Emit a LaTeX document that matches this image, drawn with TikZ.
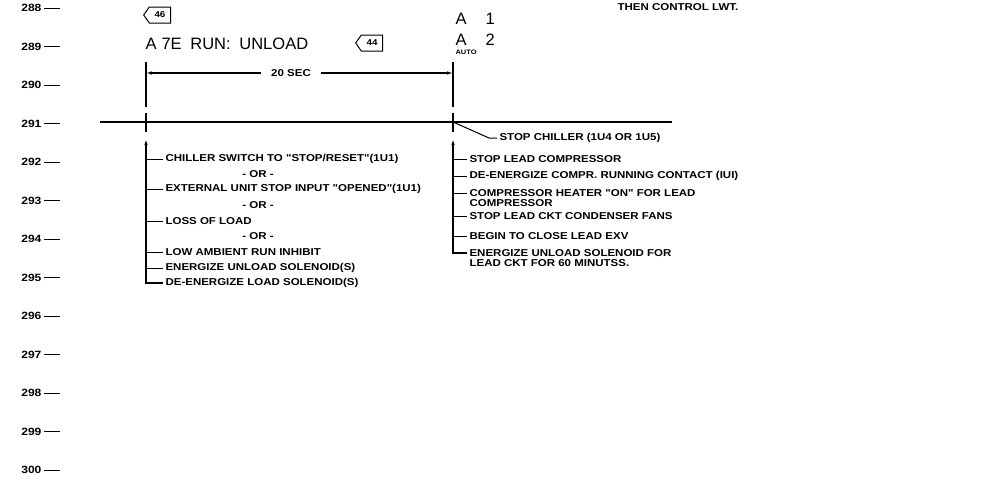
\documentclass[tikz,border=0pt]{standalone}
\usepackage{fontspec}
\setmainfont{Liberation Sans}
\newfontfamily\cadfont[FakeStretch=1.15]{Liberation Sans}
\usetikzlibrary{arrows.meta, positioning, calc, shapes.symbols}

\tikzset{
    cad/.style={font=\cadfont\bfseries\fontsize{10}{11}\selectfont, inner ysep=0pt, inner xsep=2pt, anchor=west},
    ortxt/.style={cad, anchor=center},
    rownum/.style={font=\cadfont\bfseries\fontsize{10.5}{11}\selectfont, inner sep=0pt, anchor=east},
    bigtxt/.style={font=\fontsize{16.5}{17}\selectfont, inner sep=0pt, anchor=west},
    tag/.style={draw, line width=1pt, signal, signal to=west, signal pointer angle=110,
        minimum width=27pt, minimum height=16pt, inner sep=1pt,
        font=\cadfont\bfseries\fontsize{8.5}{9}\selectfont},
    stub/.style={line width=1pt},
    evline/.style={line width=1.3pt},
}

\begin{document}
\begin{tikzpicture}[x=1pt, y=-1pt, >={Latex[length=6pt,width=3.5pt]}, line width=1.1pt]
    \useasboundingbox (0,0) rectangle (1007,483);

    % row numbers
    \foreach \n [count=\i from 0] in {288,...,300}
        \node[rownum] (row\n) at (42,{8+38.5*\i}) {\n};
    \foreach \n in {288,...,300}
        \draw[stub] ([xshift=2pt]row\n.east) -- ++(16,0);

    % header
    \node[tag] (tagA) at (160,15) {46};
    \node[bigtxt] (title) at (145,44) {A\hspace{0.3em}7E\hspace{0.25em} RUN:\hspace{0.25em} UNLOAD};
    \node[tag] (tagB) at (372,43) {44};
    \node[bigtxt] (aone) at (455,19) {A\hspace{19pt}1};
    \node[bigtxt] (atwo) at (455,40) {A\hspace{19pt}2};
    \node[cad, font=\cadfont\bfseries\fontsize{6.5}{7}\selectfont, inner xsep=0pt] (auto) at (455,52) {AUTO};
    \node[cad] (lwt) at (615,7) {THEN CONTROL LWT.};

    % event lines
    \coordinate (evL) at (146,122);
    \coordinate (evR) at (453,122);
    \coordinate (hL) at (100,122);
    \coordinate (hR) at (672,122);
    \draw (hL) -- (hR);
    \foreach \e in {evL, evR}
        \draw[evline] ($(\e)+(0,-60)$) -- ($(\e)+(0,-15)$)
            ($(\e)+(0,-9)$) -- ($(\e)+(0,10)$);

    % 20 sec
    \node[cad, anchor=center] (dim) at (291,73) {20 SEC};
    \draw[->] ([xshift=-8pt]dim.west) -- (evL |- dim.west);
    \draw[->] ([xshift=8pt]dim.east) -- (evR |- dim.east);

    % left list
    \node[cad] (sw)  at (163,159) {CHILLER SWITCH TO "STOP/RESET"(1U1)};
    \node[ortxt] (or1) at (258,174) {- OR -};
    \node[cad] (ext) at (163,189) {EXTERNAL UNIT STOP INPUT "OPENED"(1U1)};
    \node[ortxt] (or2) at (258,205) {- OR -};
    \node[cad] (lol) at (163,221) {LOSS OF LOAD};
    \node[ortxt] (or3) at (258,236) {- OR -};
    \node[cad] (lar) at (163,252) {LOW AMBIENT RUN INHIBIT};
    \node[cad] (enu) at (163,268) {ENERGIZE UNLOAD SOLENOID(S)};
    \node[cad] (del) at (163,283) {DE-ENERGIZE LOAD SOLENOID(S)};
    \draw[evline, <-] ($(evL)+(0,17)$) |- (del.west);
    \foreach \t in {sw, ext, lol, lar, enu}
        \draw[stub] (evL |- \t.west) -- (\t.west);

    % right list
    \node[cad] (stp) at (497,138) {STOP CHILLER (1U4 OR 1U5)};
    \draw[stub] (evR) -- ([xshift=-8pt]stp.west) -- (stp.west);
    \node[cad] (slc) at (467,159) {STOP LEAD COMPRESSOR};
    \node[cad] (dec) at (467,176) {DE-ENERGIZE COMPR. RUNNING CONTACT (IUI)};
    \node[cad] (chh) at (467,193) {COMPRESSOR HEATER "ON" FOR LEAD};
    \node[cad, below=1.5pt of chh.south west, anchor=north west] (chhb) {COMPRESSOR};
    \node[cad] (slf) at (467,216) {STOP LEAD CKT CONDENSER FANS};
    \node[cad] (bcl) at (467,236) {BEGIN TO CLOSE LEAD EXV};
    \node[cad] (enr) at (467,253) {ENERGIZE UNLOAD SOLENOID FOR};
    \node[cad, below=1.5pt of enr.south west, anchor=north west] (enrb) {LEAD CKT FOR 60 MINUTSS.};
    \draw[evline, <-] ($(evR)+(0,17)$) |- (enr.west);
    \foreach \t in {slc, dec, chh, slf, bcl}
        \draw[stub] (evR |- \t.west) -- (\t.west);
\end{tikzpicture}
\end{document}
